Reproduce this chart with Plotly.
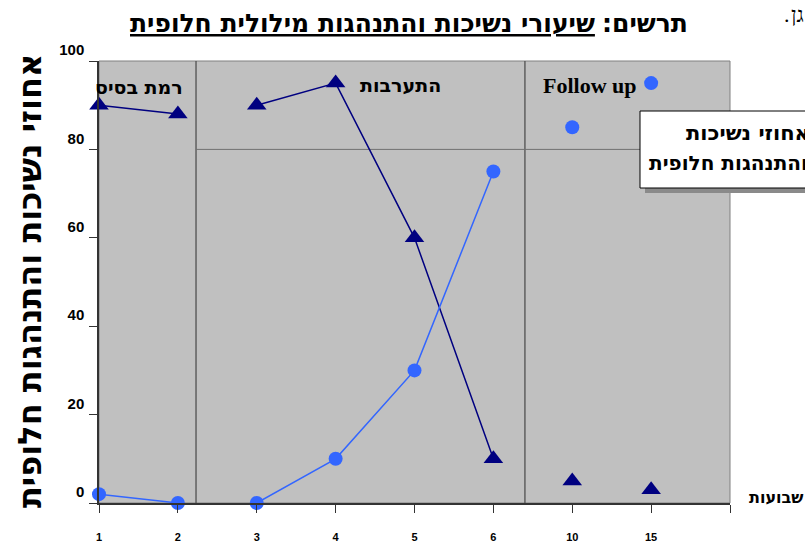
import plotly.graph_objects as go

# ---------------- data ----------------
week_labels = ["1", "2", "3", "4", "5", "6", "10", "15"]
phases = ["base", "base", "int", "int", "int", "int", "fu", "fu"]
biting = [90, 88, 90, 95, 60, 10, 5, 3]
alternative = [2, 0, 0, 10, 30, 75, 85, 95]
y_ticks = [0, 20, 40, 60, 80, 100]
phase_dividers = [1.23, 5.40]

NAVY = "#000080"
BLUE = "#3366FF"
W, H = 805, 544
L, R, T, B = 99, 730, 61, 503


def px(x):
    return (x - L) / (R - L)


def py(y):
    return 1 - (y - T) / (B - T)


xpos = list(range(len(week_labels)))

fig = go.Figure()
for ph, connect in (("base", True), ("int", True), ("fu", False)):
    idx = [i for i, p in enumerate(phases) if p == ph]
    fig.add_trace(go.Scatter(
        x=[xpos[i] for i in idx], y=[biting[i] for i in idx],
        mode="lines+markers" if connect else "markers",
        line=dict(color=NAVY, width=1.5),
        marker=dict(symbol="triangle-up", size=17, color=NAVY),
        showlegend=False, hoverinfo="skip", cliponaxis=False))
    fig.add_trace(go.Scatter(
        x=[xpos[i] for i in idx], y=[alternative[i] for i in idx],
        mode="lines+markers" if connect else "markers",
        line=dict(color=BLUE, width=1.5),
        marker=dict(symbol="circle", size=14, color=BLUE),
        showlegend=False, hoverinfo="skip", cliponaxis=False))

shapes = []
shapes.append(dict(type="rect", xref="paper", yref="paper", x0=0, x1=1, y0=0, y1=1,
                   line=dict(color="#808080", width=1), layer="below"))
shapes.append(dict(type="line", xref="x", yref="y", x0=phase_dividers[0], x1=8, y0=80, y1=80,
                   line=dict(color="#707070", width=1), layer="below"))
for d in phase_dividers:
    shapes.append(dict(type="line", xref="x", yref="paper", x0=d, x1=d, y0=0, y1=1,
                       line=dict(color="#505050", width=1.3), layer="below"))
shapes.append(dict(type="rect", xref="paper", yref="paper",
                   x0=px(645), x1=px(840), y0=py(193), y1=py(116),
                   fillcolor="#8a8a8a", line=dict(width=0)))
shapes.append(dict(type="rect", xref="paper", yref="paper",
                   x0=px(640), x1=px(840), y0=py(188), y1=py(111),
                   fillcolor="white", line=dict(color="black", width=1)))

HEB = "DejaVu Sans, Liberation Sans, Arial"
LAT = "Liberation Sans, Arial"
ann = []


def A(text, x, y, size, xanchor="center", font=HEB, angle=0, weight="bold"):
    ann.append(dict(text=text, xref="paper", yref="paper", x=px(x), y=py(y),
                    xanchor=xanchor, yanchor="middle", showarrow=False, textangle=angle,
                    font=dict(family=font, size=size, color="black", weight=weight)))


A(":תרשים", 690, 23, 25, xanchor="right")
A("<u>שיעורי נשיכות והתנהגות מילולית חלופית</u>", 597, 23, 25, xanchor="right")
A(".", 782, 15, 22, xanchor="left", font="Liberation Serif, DejaVu Serif", weight="normal")
A("גן", 789, 15, 22, xanchor="left", font="Liberation Serif, DejaVu Serif", weight="normal")
A("רמת בסיס", 139, 87, 19)
A("התערבות", 400, 85, 19)
A("Follow up", 590, 85, 22, font="Liberation Serif, Times New Roman, serif")
A("אחוזי נשיכות", 812, 133, 21, xanchor="right")
A("והתנהגות חלופית", 810, 163, 20, xanchor="right")
A("שבועות", 747, 497, 16, xanchor="left")
A("אחוזי נשיכות והתנהגות חלופית", 30, 281, 32, angle=-90)

fig.update_layout(
    width=W, height=H,
    margin=dict(l=L, r=W - R, t=T, b=H - B, pad=0, autoexpand=False),
    paper_bgcolor="white", plot_bgcolor="#C0C0C0",
    shapes=shapes, annotations=ann,
    xaxis=dict(range=[0, 8], tickvals=list(range(9)), ticktext=week_labels + [""],
               ticks="outside", ticklen=8, tickcolor="#333", showgrid=False, zeroline=False,
               showline=True, linecolor="#333", linewidth=1.5, automargin=False,
               tickfont=dict(family=LAT, size=11, color="black", weight="bold"),
               ticklabelstandoff=15),
    yaxis=dict(range=[0, 100], tickvals=y_ticks, ticks="outside", ticklen=8, tickcolor="#333",
               showgrid=False, zeroline=False, showline=True, linecolor="#333", linewidth=1.5,
               automargin=False,
               tickfont=dict(family=LAT, size=15, color="black", weight="bold"),
               ticklabelshift=-11, ticklabelstandoff=2),
)

fig.write_html("out.html", config={"displayModeBar": False},
               post_script="document.body.style.margin='0';document.body.style.overflow='hidden';")
